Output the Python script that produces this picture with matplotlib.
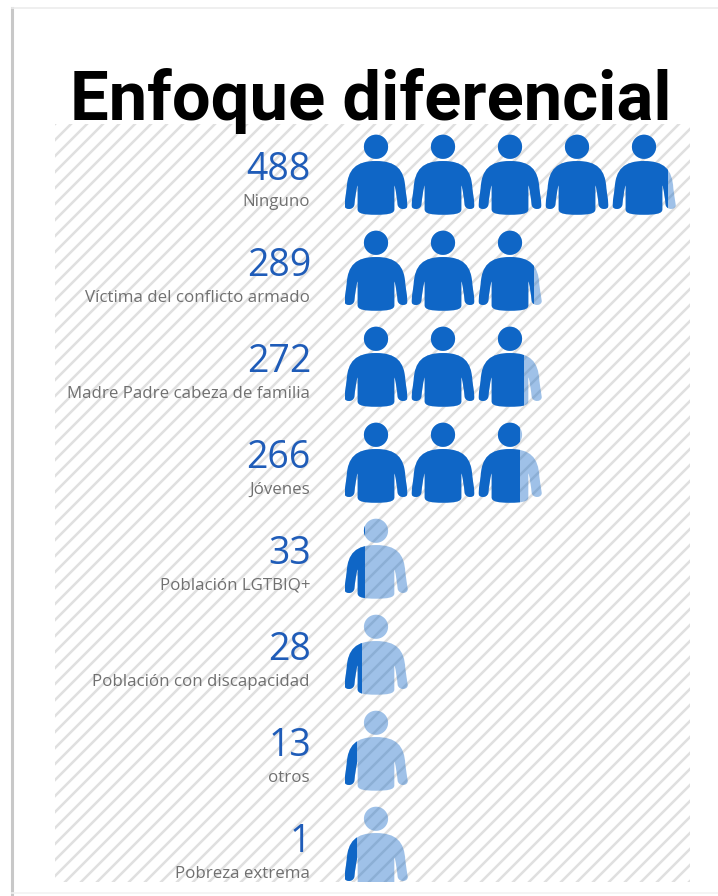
import matplotlib
matplotlib.use("Agg")
import matplotlib.pyplot as plt
import numpy as np
from matplotlib.path import Path
from matplotlib.patches import PathPatch, Rectangle

titulo = "Enfoque diferencial"
categorias = ["Ninguno", "Víctima del conflicto armado", "Madre Padre cabeza de familia",
              "Jóvenes", "Población LGTBIQ+", "Población con discapacidad", "otros", "Pobreza extrema"]
valores = [488, 289, 272, 266, 33, 28, 13, 1]
por_icono = 100
relleno_minimo = 0.19  # para que los valores muy pequeños se sigan viendo

W, H = 718, 896
AZUL = "#0F66C6"
AZUL_TXT = "#1F5CB8"
GRIS = "#707070"

fig = plt.figure(figsize=(W / 100, H / 100), dpi=100, facecolor="white")

# fondo en pixeles: marco y panel rayado
bg = fig.add_axes([0, 0, 1, 1])
bg.set_xlim(0, W)
bg.set_ylim(H, 0)
bg.axis("off")
bg.plot([12, 12], [8, 896], color="#c8c8c8", lw=2.2, zorder=1)
bg.plot([12, W], [8, 8], color="#ececec", lw=1.2, zorder=1)
bg.plot([12, W], [893, 893], color="#f2f2f2", lw=1.2, zorder=1)

panel = Rectangle((55, 124), 635, 758, fc="none", ec="none")
bg.add_patch(panel)
for c in np.arange(55 + 124, 690 + 882 + 16, 16):
    linea, = bg.plot([0, W], [c, c - W], color="#e0e0e0", lw=1.8, zorder=2)
    linea.set_clip_path(panel)

bg.text(371, 120, titulo, ha="center", va="baseline", fontsize=49.5, fontweight="bold",
        family="Roboto", color="black", zorder=6)

# mitad derecha de la silueta, en unidades de 1/186 del ancho del icono
tramos = [
    (60, 0), (85, 25), (88, 82),
    (90, 100), (93, 115), (95, 130),
    (98, 146), (70, 150), (65, 132),
    (63, 112), (60, 90), (56, 74),
    (55, 73), (55, 75), (55, 80),
    (55, 100), (55, 125), (55, 145),
    (55, 158), (35, 161), (0, 161),
]


def silueta():
    der = np.array([(0, 0)] + tramos, dtype=float) / 186
    izq = der[-2::-1] * [-1, 1]
    verts = np.vstack([der, izq])
    codes = [Path.MOVETO] + [Path.CURVE4] * (len(verts) - 1)
    return verts, codes


verts, codes = silueta()

ax = fig.add_axes([345 / W, 1 - 882 / H, 345 / W, 758 / H])
ax.patch.set_alpha(0)
ax.axis("off")
ax.set_xlim(0, 345 / 67)
ax.set_ylim(758 / 96, 0)

ancho = 62 / 67          # ancho del icono dentro de su celda
alto_fila = 96
esc_y = 62 / alto_fila   # un ancho de icono expresado en filas
th = np.linspace(0, 2 * np.pi, 60)

for fila, valor in enumerate(valores):
    n = int(np.ceil(valor / por_icono))
    for i in range(n):
        frac = max(min(1, valor / por_icono - i), relleno_minimo)
        cx = i + ancho / 2
        y0 = fila + 11 / alto_fila
        pts = np.column_stack([cx + verts[:, 0] * ancho, y0 + (0.42 + verts[:, 1]) * esc_y])
        cabeza = np.column_stack([cx + 0.195 * ancho * np.cos(th),
                                  y0 + (0.195 * np.sin(th) + 0.19) * esc_y])
        corte = Rectangle((i, fila), ancho * frac, 1, transform=ax.transData)
        for alfa, clip in [(0.40, None), (1, corte)]:
            cuerpo = PathPatch(Path(pts, codes), fc=AZUL, ec="none", alpha=alfa, zorder=3)
            ax.add_patch(cuerpo)
            cab = ax.fill(cabeza[:, 0], cabeza[:, 1], color=AZUL, alpha=alfa, lw=0, zorder=3)[0]
            if clip is not None:
                cuerpo.set_clip_path(clip)
                cab.set_clip_path(clip)

    yc = 124 + fila * alto_fila
    bg.text(311, yc + 46, str(valor), ha="right", va="center", fontsize=27,
            family="Open Sans", color=AZUL_TXT, zorder=6)
    bg.text(310, yc + 78, categorias[fila], ha="right", va="center", fontsize=12.2,
            family="Open Sans", color=GRIS, zorder=6)

fig.savefig("out.png", dpi=100)
